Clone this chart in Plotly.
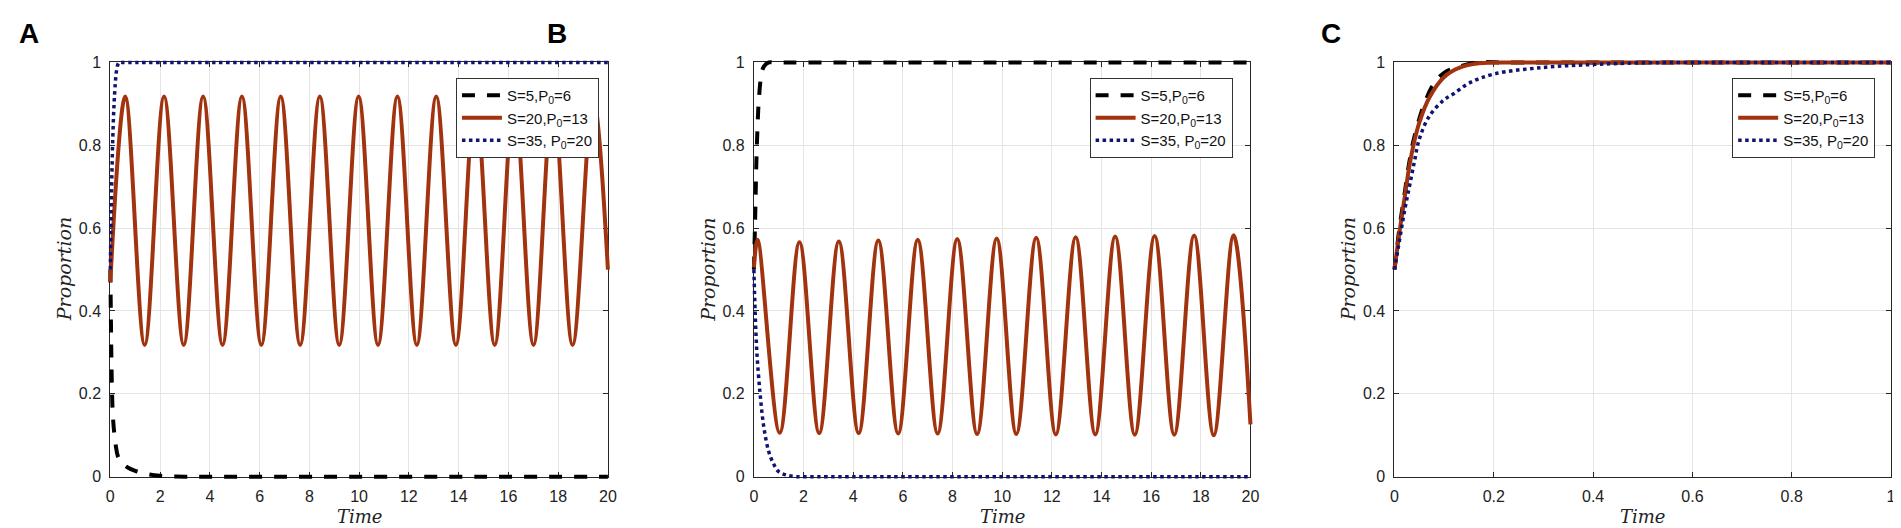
import plotly.graph_objects as go

W, H = 1901, 528

# ---------------- data ----------------
# Panel A
tA_black = [0, 0.02, 0.04, 0.07, 0.1, 0.15, 0.22, 0.3, 0.45, 0.7, 1.0, 1.5, 2.0, 3.0, 4.0, 6.0, 10.0, 15.0, 20.0]
yA_black = [0.5, 0.40, 0.30, 0.20, 0.15, 0.11, 0.075, 0.05, 0.035, 0.022, 0.014, 0.006, 0.002, 0.0, 0.0, 0.0, 0.0, 0.0, 0.0]

tA_red = [0, 0.6, 1.38, 2.16, 2.95, 3.73, 4.51, 5.29, 6.07, 6.85, 7.63, 8.42, 9.20,
          9.98, 10.76, 11.54, 12.32, 13.10, 13.89, 14.67, 15.45, 16.23, 17.01, 17.79,
          18.58, 19.40, 20.0]
yA_red = [0.47, 0.918, 0.318, 0.918, 0.318, 0.918, 0.318, 0.918, 0.318, 0.918, 0.318,
          0.918, 0.318, 0.918, 0.318, 0.918, 0.318, 0.918, 0.318, 0.918, 0.318, 0.918,
          0.318, 0.918, 0.318, 0.918, 0.50]

tA_blue = [0, 0.03, 0.06, 0.1, 0.15, 0.2, 0.25, 0.35, 0.5, 1.0, 2.0, 4.0, 8.0, 14.0, 20.0]
yA_blue = [0.5, 0.62, 0.72, 0.82, 0.9, 0.95, 0.98, 1.0, 1.0, 1.0, 1.0, 1.0, 1.0, 1.0, 1.0]

# Panel B
tB_black = [0, 0.05, 0.1, 0.15, 0.2, 0.3, 0.4, 0.6, 0.8, 1.2, 2.0, 4.0, 8.0, 14.0, 20.0]
yB_black = [0.5, 0.62, 0.76, 0.85, 0.91, 0.97, 0.99, 1.0, 1.0, 1.0, 1.0, 1.0, 1.0, 1.0, 1.0]

tB_red = [0, 0.15, 1.04, 1.835, 2.63, 3.42, 4.22, 5.01, 5.81, 6.60, 7.40, 8.19, 8.99,
          9.78, 10.57, 11.37, 12.16, 12.96, 13.75, 14.55, 15.34, 16.14, 16.93, 17.73,
          18.52, 19.32, 20.0]
yB_red = [0.505, 0.572, 0.106, 0.566, 0.105, 0.568, 0.105, 0.570, 0.104, 0.572, 0.104,
          0.574, 0.103, 0.575, 0.103, 0.577, 0.102, 0.578, 0.102, 0.580, 0.101, 0.581,
          0.101, 0.582, 0.100, 0.583, 0.126]

tB_blue = [0, 0.05, 0.12, 0.25, 0.4, 0.6, 0.8, 1.0, 1.3, 1.7, 2.2, 3.0, 5.0, 10.0, 15.0, 20.0]
yB_blue = [0.5, 0.40, 0.30, 0.20, 0.12, 0.06, 0.03, 0.012, 0.004, 0.0, 0.0, 0.0, 0.0, 0.0, 0.0, 0.0]

# Panel C
tC_black = [0, 0.01, 0.02, 0.03, 0.04, 0.06, 0.08, 0.1, 0.13, 0.17, 0.22, 0.3, 0.4, 0.6, 0.8, 1.0]
yC_black = [0.5, 0.60, 0.68, 0.76, 0.82, 0.90, 0.95, 0.975, 0.99, 1.0, 1.0, 1.0, 1.0, 1.0, 1.0, 1.0]

tC_red = [0, 0.01, 0.02, 0.03, 0.04, 0.05, 0.07, 0.1, 0.13, 0.17, 0.25, 0.3, 0.4, 0.6, 0.8, 1.0]
yC_red = [0.5, 0.59, 0.67, 0.75, 0.81, 0.855, 0.915, 0.965, 0.987, 0.998, 1.0, 1.0, 1.0, 1.0, 1.0, 1.0]

tC_blue = [0, 0.01, 0.02, 0.03, 0.04, 0.05, 0.07, 0.1, 0.12, 0.15, 0.2, 0.3, 0.4, 0.5, 0.7, 0.85, 1.0]
yC_blue = [0.5, 0.57, 0.64, 0.70, 0.76, 0.815, 0.87, 0.91, 0.925, 0.95, 0.972, 0.988,
           0.995, 0.999, 1.0, 1.0, 1.0]

legend_names = ["S=5,P<sub>0</sub>=6", "S=20,P<sub>0</sub>=13", "S=35, P<sub>0</sub>=20"]
panel_letters = ["A", "B", "C"]
x_ranges = [(0, 20), (0, 20), (0, 1)]
x_dticks = [2, 2, 0.2]
y_dtick = 0.2

series = [
    [(tA_black, yA_black), (tA_red, yA_red), (tA_blue, yA_blue)],
    [(tB_black, yB_black), (tB_red, yB_red), (tB_blue, yB_blue)],
    [(tC_black, yC_black), (tC_red, yC_red), (tC_blue, yC_blue)],
]

# ---------------- styling / layout ----------------
FRAME_X = [(99, 600), (747, 1247), (1392, 1892)]
FRAME_Y = (48, 476)   # top, bottom pixel
PAD = 4
LEG_RIGHT = [591, 1229, 1876]
LEG_TOP = 64
LETTER_X = [17, 549, 1328]

AX_COL = "#262626"
GRID_COL = "#e4e4e4"
styles = [
    dict(color="#000000", width=4, dash="13px,12px"),
    dict(color="#a1330f", width=4, dash="solid"),
    dict(color="#101470", width=3.5, dash="3.5px,3.5px"),
]
tick_font = dict(family="Liberation Sans, Arial", size=16, color="#222222")
title_font_family = "DejaVu Serif"

fig = go.Figure()
layout = dict(
    width=W, height=H, autosize=False,
    margin=dict(l=0, r=0, t=0, b=0),
    paper_bgcolor="white", plot_bgcolor="rgba(0,0,0,0)",
    showlegend=True,
)
annotations = []

y_top_px, y_bot_px = FRAME_Y
dom_y = [1 - y_bot_px / H, 1 - y_top_px / H]
ppu_y = (y_bot_px - y_top_px) / 1.0
ext_y = PAD / ppu_y

for i in range(3):
    fa = 2 * i + 1
    da = 2 * i + 2
    fs = "" if fa == 1 else str(fa)
    ds = str(da)
    x0p, x1p = FRAME_X[i]
    xr0, xr1 = x_ranges[i]
    ppu_x = (x1p - x0p) / (xr1 - xr0)
    ext_x = PAD / ppu_x

    layout["xaxis" + fs] = dict(
        domain=[x0p / W, x1p / W], range=[xr0, xr1], anchor="y" + fs,
        dtick=x_dticks[i], tick0=0, showgrid=True, gridcolor=GRID_COL, gridwidth=1,
        showline=True, linecolor=AX_COL, linewidth=1, mirror="ticks",
        ticks="inside", ticklen=5, tickcolor=AX_COL, tickwidth=1,
        tickfont=tick_font, zeroline=False, fixedrange=True, ticklabelstandoff=5,
    )
    layout["yaxis" + fs] = dict(
        domain=dom_y, range=[0, 1], anchor="x" + fs,
        dtick=y_dtick, tick0=0, showgrid=True, gridcolor=GRID_COL, gridwidth=1,
        showline=True, linecolor=AX_COL, linewidth=1, mirror="ticks",
        ticks="inside", ticklen=5, tickcolor=AX_COL, tickwidth=1,
        tickfont=tick_font, zeroline=False, fixedrange=True, ticklabelstandoff=5,
    )
    layout["xaxis" + ds] = dict(
        domain=[(x0p - PAD) / W, (x1p + PAD) / W], range=[xr0 - ext_x, xr1 + ext_x],
        anchor="y" + ds, visible=False, fixedrange=True,
    )
    layout["yaxis" + ds] = dict(
        domain=[dom_y[0] - PAD / H, dom_y[1] + PAD / H], range=[-ext_y, 1 + ext_y],
        anchor="x" + ds, visible=False, fixedrange=True,
    )

    fig.add_trace(go.Scatter(x=[], y=[], xaxis="x" + fs, yaxis="y" + fs,
                             showlegend=False, hoverinfo="skip"))

    leg_key = "legend" if i == 0 else "legend" + str(i + 1)
    for k, (tx, ty) in enumerate(series[i]):
        st = styles[k]
        fig.add_trace(go.Scatter(
            x=tx, y=ty, mode="lines", name=legend_names[k],
            line=dict(color=st["color"], width=st["width"], dash=st["dash"],
                      shape="spline", smoothing=1.0),
            xaxis="x" + ds, yaxis="y" + ds, legend=leg_key,
        ))

    layout[leg_key] = dict(
        x=LEG_RIGHT[i] / W, xanchor="right", y=1 - LEG_TOP / H, yanchor="top",
        bgcolor="white", bordercolor="#333333", borderwidth=1,
        font=dict(family="Liberation Sans, Arial", size=15, color="#111111"),
        itemwidth=40, tracegroupgap=0,
    )

    # axis titles
    annotations.append(dict(
        text="<i>Time</i>", x=((x0p + x1p) / 2) / W, y=1 - 517 / H,
        xref="paper", yref="paper", showarrow=False, xanchor="center", yanchor="middle",
        font=dict(family=title_font_family, size=18, color="#222222"),
    ))
    annotations.append(dict(
        text="<i>Proportion</i>", x=(x0p - 47) / W, y=1 - 262 / H, textangle=-90,
        xref="paper", yref="paper", showarrow=False, xanchor="center", yanchor="middle",
        font=dict(family=title_font_family, size=19, color="#222222"),
    ))
    annotations.append(dict(
        text="<b>" + panel_letters[i] + "</b>", x=LETTER_X[i] / W, y=1 - 18 / H,
        xref="paper", yref="paper", showarrow=False, xanchor="center", yanchor="middle",
        font=dict(family="Liberation Sans, Arial", size=28, color="#000000"),
    ))

layout["annotations"] = annotations
fig.update_layout(**layout)
fig.write_html("out.html")
